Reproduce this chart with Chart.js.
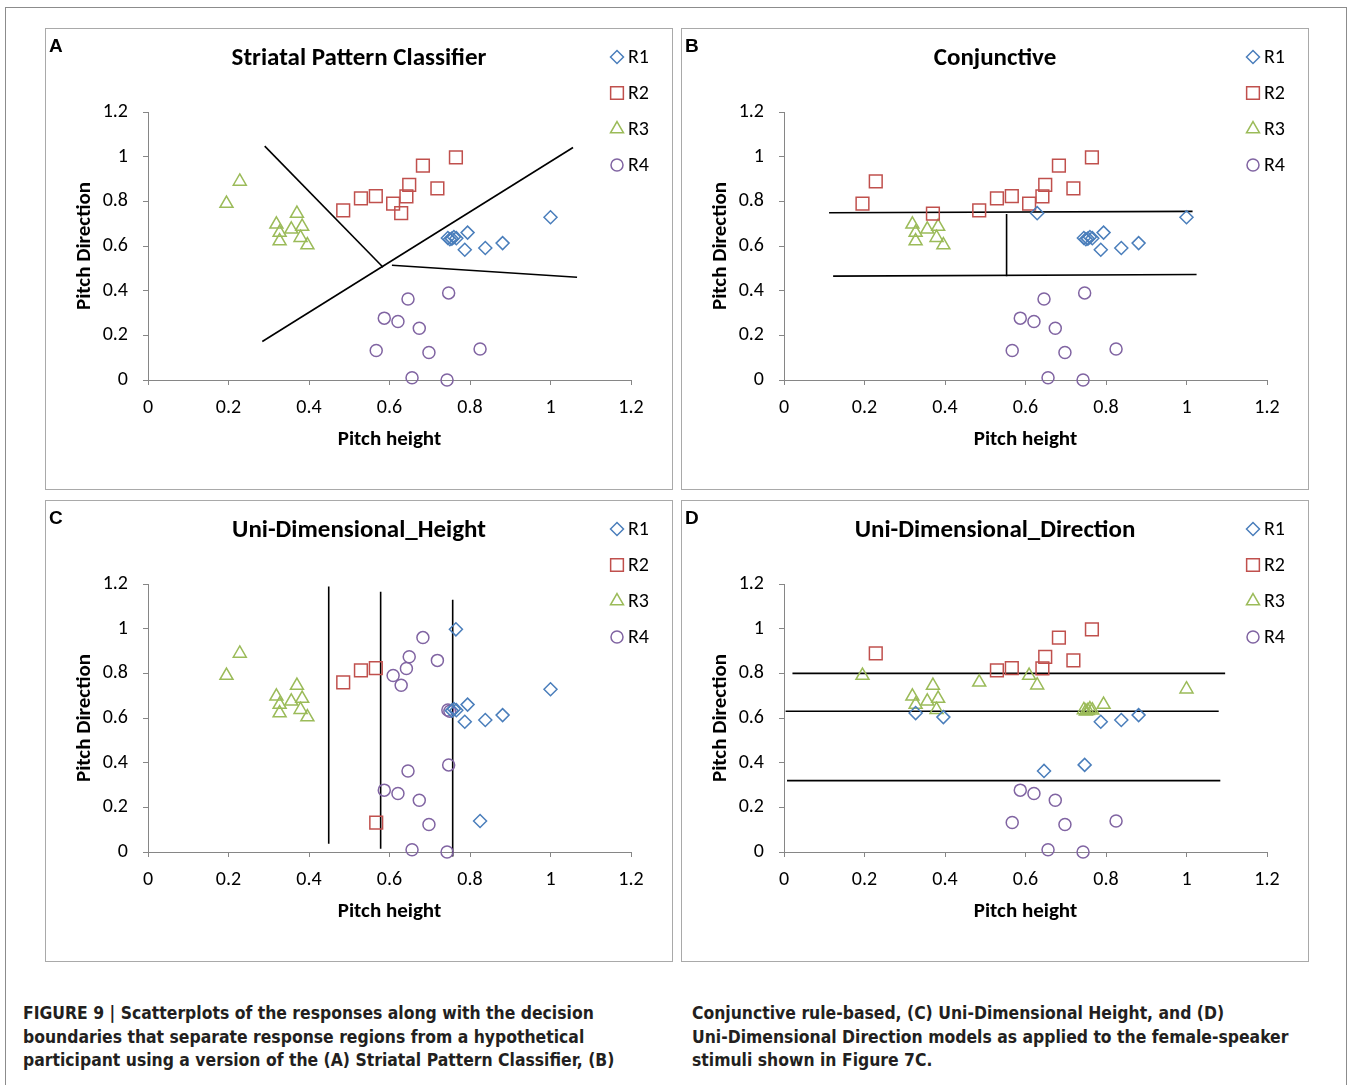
<!DOCTYPE html>
<html>
<head>
<meta charset="utf-8">
<script src="https://cdn.jsdelivr.net/npm/chart.js@4.4.0/dist/chart.umd.min.js"></script>
<style>
  body { margin: 0; background: #fff; width: 1349px; height: 1085px; overflow: hidden; position: relative; }
  .frame { position: absolute; left: 5px; top: 7px; width: 1342px; height: 1100px; border: 1px solid #8c8c8c; box-sizing: border-box; }
  .panel { position: absolute; width: 628px; height: 462px; border: 1px solid #a9a9a9; box-sizing: border-box; }
  .box { position: absolute; width: 628px; height: 462px; }
  .tag { position: absolute; font: bold 19px "Liberation Sans", Arial, sans-serif; color: #000; }
  .cap { position: absolute; font: bold 17.4px "Liberation Sans Narrow", "DejaVu Sans Condensed", "Liberation Sans", sans-serif; white-space: nowrap; color: #231f20; }
</style>
</head>
<body>
<div class="frame"></div>

<script>
// stimuli positions (pitch height, pitch direction)
const stimX = [1.0, 0.794, 0.787, 0.838, 0.881, 0.745, 0.75, 0.755, 0.76, 0.766,
  0.485, 0.529, 0.566, 0.609, 0.629, 0.642, 0.649, 0.683, 0.719, 0.765,
  0.195, 0.228, 0.319, 0.327, 0.327, 0.356, 0.370, 0.383, 0.379, 0.396,
  0.646, 0.747, 0.587, 0.621, 0.674, 0.567, 0.698, 0.825, 0.656, 0.743];
const stimY = [0.729, 0.66, 0.583, 0.591, 0.613, 0.636, 0.63, 0.633, 0.64, 0.635,
  0.76, 0.813, 0.823, 0.79, 0.747, 0.822, 0.874, 0.96, 0.858, 0.997,
  0.79, 0.889, 0.697, 0.66, 0.622, 0.675, 0.745, 0.687, 0.637, 0.604,
  0.363, 0.39, 0.277, 0.262, 0.232, 0.132, 0.123, 0.139, 0.01, 0];

// response (1..4) given to each stimulus in each model
const respA = [1,1,1,1,1,1,1,1,1,1, 2,2,2,2,2,2,2,2,2,2, 3,3,3,3,3,3,3,3,3,3, 4,4,4,4,4,4,4,4,4,4];
const respB = [1,1,1,1,1,1,1,1,1,1, 2,2,2,2,1,2,2,2,2,2, 2,2,3,3,3,3,2,3,3,3, 4,4,4,4,4,4,4,4,4,4];
const respC = [1,1,1,1,1,4,4,1,1,1, 2,2,2,4,4,4,4,4,4,1, 3,3,3,3,3,3,3,3,3,3, 4,4,4,4,4,2,4,1,4,4];
const respD = [3,3,1,1,1,3,3,3,3,3, 3,2,2,3,3,2,2,2,2,2, 3,2,3,3,1,3,3,3,3,1, 1,1,4,4,4,4,4,4,4,4];

// decision boundaries: [x1, y1, x2, y2]
const boundsA = [[0.290, 1.047, 0.584, 0.505], [0.284, 0.1725, 1.056, 1.041], [0.606, 0.514, 1.066, 0.460]];
const boundsB = [[0.112, 0.749, 1.015, 0.755], [0.122, 0.465, 1.025, 0.4725], [0.553, 0.743, 0.553, 0.465]];
const boundsC = [[0.449, 1.189, 0.449, 0.0375], [0.578, 1.165, 0.578, 0.015], [0.757, 1.129, 0.757, -0.02]];
const boundsD = [[0.021, 0.80, 1.096, 0.80], [0.004, 0.63, 1.080, 0.63], [0.0075, 0.3195, 1.084, 0.3195]];

const responseNames = ['R1', 'R2', 'R3', 'R4'];
const axisTicks = [0, 0.2, 0.4, 0.6, 0.8, 1, 1.2];

const captionLeft = [
  'FIGURE 9 | Scatterplots of the responses along with the decision',
  'boundaries that separate response regions from a hypothetical',
  'participant using a version of the (A) Striatal Pattern Classifier, (B)'
];
const captionRight = [
  'Conjunctive rule-based, (C) Uni-Dimensional Height, and (D)',
  'Uni-Dimensional Direction models as applied to the female-speaker',
  'stimuli shown in Figure 7C.'
];

// look
const colors = ['#4a7ebb', '#c0504d', '#9bbb59', '#8064a2'];
const markers = ['rectRot', 'rect', 'triangle', 'circle'];
const radii = [6.5, 9, 7.5, 6];
const FONT = 'Carlito, Lato, "Open Sans", sans-serif';

const panels = [
  { tag: 'A', title: 'Striatal Pattern Classifier', resp: respA, bounds: boundsA, left: 45, top: 28 },
  { tag: 'B', title: 'Conjunctive', resp: respB, bounds: boundsB, left: 681, top: 28 },
  { tag: 'C', title: 'Uni-Dimensional_Height', resp: respC, bounds: boundsC, left: 45, top: 500 },
  { tag: 'D', title: 'Uni-Dimensional_Direction', resp: respD, bounds: boundsD, left: 681, top: 500 }
];

// legend drawn beside the title, like the original
const legendMarks = {
  id: 'legendMarks',
  afterDraw(chart) {
    const ctx = chart.ctx;
    ctx.save();
    responseNames.forEach((name, k) => {
      const y = 29 + k * 36;
      ctx.lineWidth = 1.5;
      ctx.strokeStyle = colors[k];
      ctx.fillStyle = 'rgba(0,0,0,0)';
      Chart.helpers.drawPoint(ctx, { pointStyle: markers[k], radius: radii[k], borderWidth: 1.5, rotation: 0 }, 572, y);
      ctx.fillStyle = '#000';
      ctx.font = '20px ' + FONT;
      ctx.textBaseline = 'middle';
      ctx.textAlign = 'left';
      ctx.fillText(name, 583, y + 1);
    });
    ctx.restore();
  }
};

panels.forEach(p => {
  const frame = document.createElement('div');
  frame.className = 'panel';
  frame.style.left = p.left + 'px';
  frame.style.top = p.top + 'px';
  document.body.appendChild(frame);

  const box = document.createElement('div');
  box.className = 'box';
  box.style.left = p.left + 'px';
  box.style.top = p.top + 'px';
  const cv = document.createElement('canvas');
  box.appendChild(cv);
  document.body.appendChild(box);

  const tag = document.createElement('div');
  tag.className = 'tag';
  tag.textContent = p.tag;
  tag.style.left = (p.left + 4) + 'px';
  tag.style.top = (p.top + 7) + 'px';
  document.body.appendChild(tag);

  const pointSets = responseNames.map((name, k) => ({
    label: name,
    data: stimX.map((x, i) => ({ x: x, y: stimY[i], r: p.resp[i] })).filter(d => d.r === k + 1),
    pointStyle: markers[k],
    pointRadius: radii[k],
    pointBorderWidth: 1.5,
    borderColor: colors[k],
    backgroundColor: 'rgba(0,0,0,0)',
    clip: false
  }));
  const lineSets = p.bounds.map(b => ({
    label: 'boundary',
    data: [{ x: b[0], y: b[1] }, { x: b[2], y: b[3] }],
    showLine: true,
    borderColor: '#000',
    borderWidth: 1.6,
    pointRadius: 0,
    clip: false
  }));

  new Chart(cv, {
    type: 'scatter',
    data: { datasets: pointSets.concat(lineSets) },
    options: {
      responsive: true,
      maintainAspectRatio: false,
      animation: false,
      events: [],
      layout: { padding: 0 },
      plugins: {
        legend: { display: false },
        tooltip: { enabled: false },
        title: {
          display: true,
          text: p.title,
          color: '#000',
          font: { family: FONT, size: 25, weight: 'bold' },
          padding: { top: 16, bottom: 38 }
        }
      },
      scales: {
        x: {
          type: 'linear', min: 0, max: 1.2,
          afterBuildTicks: s => { s.ticks = axisTicks.map(v => ({ value: v })); },
          afterFit: s => { s.height = 110; },
          ticks: { color: '#000', font: { family: FONT, size: 20 }, padding: 11, callback: v => String(v) },
          grid: { drawOnChartArea: false, drawTicks: true, tickLength: 5, color: '#868686' },
          border: { color: '#868686', width: 1 },
          title: { display: true, text: 'Pitch height', color: '#000',
                   font: { family: FONT, size: 21, weight: 'bold' }, padding: { top: 0, bottom: 38 } }
        },
        y: {
          type: 'linear', min: 0, max: 1.2,
          afterBuildTicks: s => { s.ticks = axisTicks.map(v => ({ value: v })); },
          afterFit: s => { s.width = 103; },
          ticks: { color: '#000', font: { family: FONT, size: 20 }, padding: 15, callback: v => String(v) },
          grid: { drawOnChartArea: false, drawTicks: true, tickLength: 5, color: '#868686' },
          border: { color: '#868686', width: 1 },
          title: { display: true, text: 'Pitch Direction', color: '#000',
                   font: { family: FONT, size: 21, weight: 'bold' }, padding: { top: 27, bottom: 0 } }
        },
        // empty right-hand scale that only reserves the legend column
        legendSpace: {
          type: 'linear', position: 'right', min: 0, max: 1,
          afterFit: s => { s.width = 42; },
          ticks: { display: false },
          grid: { display: false, drawTicks: false },
          border: { display: false },
          title: { display: false }
        }
      }
    },
    plugins: [legendMarks]
  });
});

// caption
function captionColumn(lines, x) {
  lines.forEach((t, i) => {
    const d = document.createElement('div');
    d.className = 'cap';
    d.textContent = t;
    d.style.left = x + 'px';
    d.style.top = (1003 + i * 23.5) + 'px';
    document.body.appendChild(d);
  });
}
captionColumn(captionLeft, 23);
captionColumn(captionRight, 692);
</script>
</body>
</html>
